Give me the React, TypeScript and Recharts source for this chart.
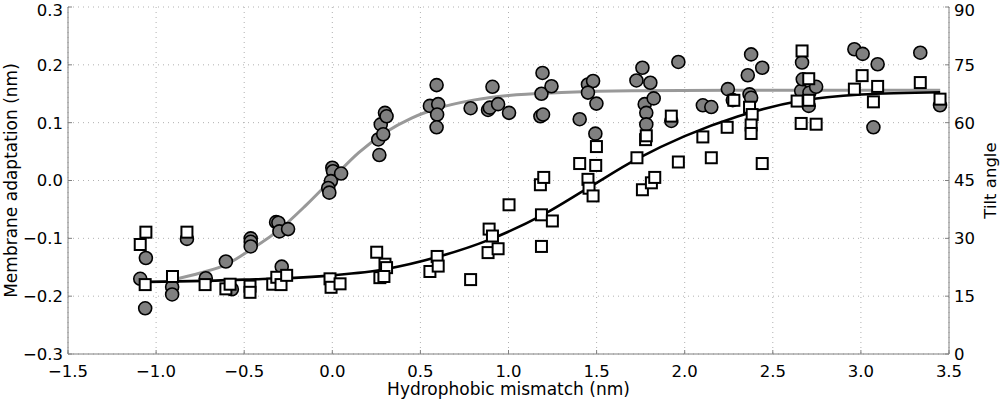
import React from 'react';
import { ComposedChart, Scatter, Line, XAxis, YAxis, CartesianGrid } from 'recharts';

// axis ticks
const xTicks = [-1.5, -1, -0.5, 0, 0.5, 1, 1.5, 2, 2.5, 3, 3.5];
const adaptTicks = [-0.3, -0.2, -0.1, 0, 0.1, 0.2, 0.3];
const tiltTicks = [0, 15, 30, 45, 60, 75, 90];

// membrane adaptation (nm) vs hydrophobic mismatch (nm), grey circles
const adaptationPoints: [number, number][] = [
  [-1.09, -0.17], [-1.058, -0.134], [-1.062, -0.221], [-0.909, -0.184], [-0.909, -0.197],
  [-0.825, -0.101], [-0.718, -0.169], [-0.604, -0.14], [-0.57, -0.188],
  [-0.463, -0.1], [-0.463, -0.106], [-0.463, -0.114],
  [-0.319, -0.072], [-0.306, -0.073], [-0.3, -0.088], [-0.251, -0.084], [-0.287, -0.149],
  [0.0, 0.022], [0.004, 0.016], [-0.008, -0.001], [-0.023, -0.013], [-0.017, -0.021], [0.05, 0.012],
  [0.261, 0.071], [0.267, 0.044], [0.275, 0.097], [0.289, 0.08], [0.299, 0.117], [0.308, 0.111],
  [0.554, 0.129], [0.592, 0.165], [0.601, 0.132], [0.595, 0.114], [0.592, 0.092],
  [0.785, 0.125], [0.884, 0.122], [0.894, 0.126], [0.909, 0.162], [0.941, 0.132], [1.003, 0.117],
  [1.193, 0.186], [1.187, 0.15], [1.244, 0.163], [1.181, 0.111], [1.196, 0.114],
  [1.404, 0.106], [1.451, 0.166], [1.48, 0.172], [1.451, 0.152], [1.499, 0.133], [1.493, 0.081],
  [1.726, 0.173], [1.76, 0.195], [1.773, 0.132], [1.782, 0.117], [1.782, 0.097], [1.805, 0.169], [1.824, 0.142],
  [1.924, 0.103], [1.964, 0.205],
  [2.103, 0.13], [2.151, 0.127], [2.245, 0.158], [2.273, 0.139],
  [2.358, 0.182], [2.377, 0.218], [2.368, 0.149], [2.377, 0.143], [2.44, 0.195],
  [2.661, 0.155], [2.666, 0.204], [2.67, 0.175], [2.704, 0.129], [2.708, 0.152], [2.746, 0.162],
  [2.963, 0.227], [3.01, 0.219], [3.095, 0.201], [3.071, 0.092],
  [3.337, 0.221], [3.449, 0.13],
];

// tilt angle (deg) vs hydrophobic mismatch (nm), white squares
const tiltPoints: [number, number][] = [
  [-1.09, 28.4], [-1.058, 31.6], [-1.062, 18.0], [-0.907, 20.1], [-0.825, 31.6], [-0.722, 18.0],
  [-0.604, 16.9], [-0.58, 18.1], [-0.467, 17.6], [-0.467, 16.0],
  [-0.338, 18.1], [-0.315, 19.9], [-0.291, 18.0], [-0.259, 20.4],
  [-0.013, 19.5], [-0.007, 17.3], [0.044, 18.2],
  [0.252, 26.4], [0.27, 19.8], [0.299, 23.3], [0.308, 22.4], [0.293, 20.1],
  [0.554, 21.4], [0.595, 25.3], [0.601, 22.8], [0.785, 19.3],
  [0.89, 32.4], [0.909, 30.6], [0.884, 26.3], [0.941, 27.3], [1.003, 38.7],
  [1.181, 43.9], [1.2, 45.8], [1.187, 36.1], [1.249, 34.5], [1.187, 27.9],
  [1.404, 49.4], [1.451, 45.3], [1.457, 43.0], [1.48, 41.0], [1.495, 48.9], [1.499, 53.8],
  [1.729, 50.9], [1.76, 42.6], [1.811, 44.4], [1.83, 45.8], [1.778, 55.6], [1.782, 56.6],
  [1.924, 61.7], [1.964, 49.8],
  [2.103, 56.3], [2.151, 50.9], [2.241, 58.8], [2.279, 65.8],
  [2.368, 64.0], [2.383, 62.1], [2.377, 59.4], [2.377, 57.2], [2.44, 49.4],
  [2.666, 78.6], [2.638, 65.6], [2.661, 59.8], [2.704, 71.4], [2.704, 65.8], [2.746, 59.6],
  [2.963, 68.7], [3.007, 72.2], [3.071, 65.4], [3.095, 69.4],
  [3.337, 70.4], [3.449, 66.1],
];

// fitted curves
const adaptationFit: [number, number][] = [
  [-0.88, -0.17], [-0.75, -0.16], [-0.6, -0.145], [-0.47, -0.121], [-0.3, -0.085],
  [-0.15, -0.043], [0, 0.003], [0.15, 0.048], [0.3, 0.083], [0.45, 0.108], [0.6, 0.125],
  [0.8, 0.139], [1.0, 0.147], [1.3, 0.152], [1.7, 0.155], [2.5, 0.156], [3.45, 0.156],
];
const tiltFit: [number, number][] = [
  [-1.05, 18.7], [-0.5, 19.3], [0, 20.4], [0.3, 22.0], [0.6, 25.2], [0.9, 29.8],
  [1.2, 36.2], [1.45, 43.0], [1.73, 50.6], [2.0, 56.5], [2.3, 61.6], [2.65, 65.6],
  [3.0, 67.3], [3.45, 67.9],
];

const rows = (pts: [number, number][]) => pts.map(([x, y]) => ({ x, y }));
const minus = (s: string) => s.replace('-', '\u2212');
const fmt1 = (v: number) => minus(v.toFixed(1));
const fmt0 = (v: number) => String(v);

const FONT = '"DejaVu Sans", sans-serif';
const axisGrey = '#808080';
const tickStyle = { fill: '#000', fontSize: 16.5, fontFamily: FONT };

// y tick label; the topmost one is nudged down so it stays inside the page
const makeYTick = (format: (v: number) => string, top: number) => (p: any) => (
  <text x={p.x} y={p.y + (p.payload.value === top ? 3 : 0)} dy="0.355em" textAnchor={p.textAnchor}
    fontSize={16.5} fontFamily={FONT} fill="#000">{format(p.payload.value)}</text>
);

const CircleMark = (p: any) => (
  <circle cx={p.cx} cy={p.cy} r={6.5} fill="#808080" stroke="#000" strokeWidth={1.6} />
);
const SquareMark = (p: any) => (
  <rect x={p.cx - 5.5} y={p.cy - 5.5} width={11} height={11} fill="#fff" stroke="#000" strokeWidth={2} />
);

const LeftTitle = ({ viewBox }: any) => {
  const x = viewBox.x + 11;
  const y = viewBox.y + viewBox.height / 2;
  return (
    <text x={x} y={y} transform={`rotate(-90, ${x}, ${y})`} textAnchor="middle" dominantBaseline="central"
      fontSize={17} fontFamily={FONT} fill="#000">Membrane adaptation (nm)</text>
  );
};
const RightTitle = ({ viewBox }: any) => {
  const x = viewBox.x + 41;
  const y = viewBox.y + viewBox.height / 2;
  return (
    <text x={x} y={y} transform={`rotate(-90, ${x}, ${y})`} textAnchor="middle" dominantBaseline="central"
      fontSize={16.5} fontFamily={FONT} fill="#000">Tilt angle</text>
  );
};
const BottomTitle = ({ viewBox }: any) => (
  <text x={viewBox.x + viewBox.width / 2} y={viewBox.y + 41} textAnchor="middle"
    fontSize={17} fontFamily={FONT} fill="#000">Hydrophobic mismatch (nm)</text>
);

export default function App() {
  return (
    <div style={{ position: 'absolute', left: 0, top: 0, background: '#fff' }}>
      <ComposedChart width={1000} height={400} margin={{ top: 7, right: 0, bottom: 0, left: 0 }}>
        <CartesianGrid yAxisId="left" stroke="#b0b0b0" strokeDasharray="1 4" />
        <XAxis dataKey="x" type="number" domain={[-1.5, 3.5]} ticks={xTicks} tickFormatter={fmt1}
          allowDataOverflow height={46} stroke={axisGrey} tickSize={-4} tickMargin={15}
          tick={tickStyle} interval={0} label={{ content: BottomTitle }} />
        <YAxis yAxisId="left" dataKey="y" type="number" domain={[-0.3, 0.3]} ticks={adaptTicks}
          allowDataOverflow width={68} stroke={axisGrey} tickSize={-4} tickMargin={9}
          tick={makeYTick(fmt1, 0.3)} interval={0} label={{ content: LeftTitle }} />
        <YAxis yAxisId="right" orientation="right" dataKey="y" type="number" domain={[0, 90]}
          ticks={tiltTicks} allowDataOverflow width={51} stroke={axisGrey} tickSize={-4} tickMargin={9}
          tick={makeYTick(fmt0, 90)} interval={0} label={{ content: RightTitle }} />
        <Line yAxisId="left" data={rows(adaptationFit)} dataKey="y" type="monotone" stroke="#999999"
          strokeWidth={3} dot={false} activeDot={false} isAnimationActive={false} />
        <Line yAxisId="right" data={rows(tiltFit)} dataKey="y" type="monotone" stroke="#000"
          strokeWidth={2.6} dot={false} activeDot={false} isAnimationActive={false} />
        <Scatter yAxisId="left" data={rows(adaptationPoints)} dataKey="y" shape={CircleMark}
          isAnimationActive={false} />
        <Scatter yAxisId="right" data={rows(tiltPoints)} dataKey="y" shape={SquareMark}
          isAnimationActive={false} />
      </ComposedChart>
    </div>
  );
}
